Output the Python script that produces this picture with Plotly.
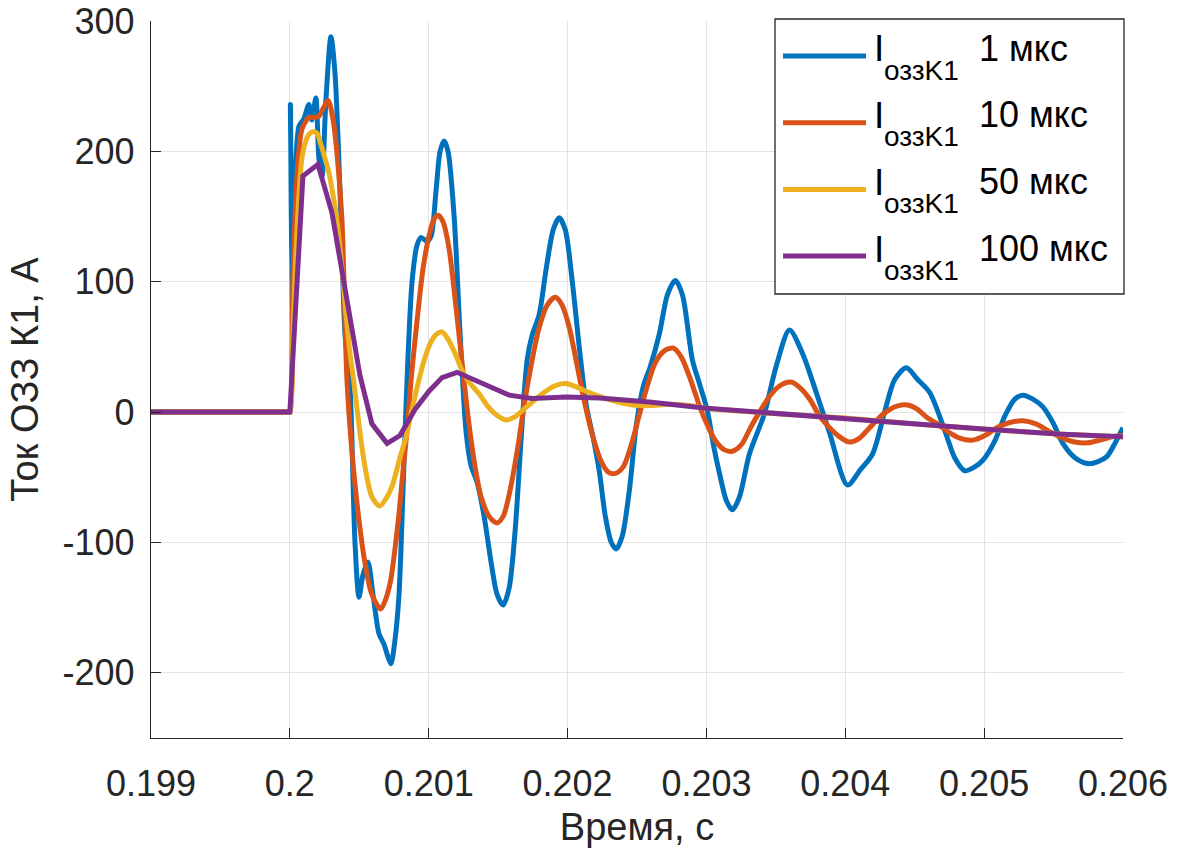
import plotly.graph_objects as go

# Fault current of the K1 earth fault, simulated with four time steps
t_1us = [0.199, 0.19999, 0.2, 0.200004, 0.200018, 0.200065, 0.200101, 0.200137, 0.200159, 0.200187,
         0.200209, 0.200231, 0.200260, 0.200296, 0.200325, 0.200361, 0.200397, 0.200433,
         0.200469, 0.200498, 0.200526, 0.200562, 0.200599, 0.200642, 0.200678, 0.200707,
         0.200728, 0.200757, 0.200786, 0.200815, 0.200844, 0.200880, 0.200916, 0.200945,
         0.200988, 0.201017, 0.201053, 0.201082, 0.201111, 0.201139, 0.201183, 0.201226,
         0.201269, 0.201305, 0.201349, 0.201399, 0.201449, 0.201493, 0.201536, 0.201579,
         0.201623, 0.201666, 0.201709, 0.201745, 0.201796, 0.201846, 0.201897, 0.201940,
         0.201983, 0.202034, 0.202084, 0.202135, 0.202185, 0.202228, 0.202272, 0.202315,
         0.202351, 0.202394, 0.202445, 0.202495, 0.202546, 0.202596, 0.202661, 0.202719,
         0.202776, 0.202827, 0.202899, 0.202949, 0.203007, 0.203050, 0.203094, 0.203144,
         0.203187, 0.203238, 0.203310, 0.203418, 0.203502, 0.203598, 0.203692, 0.203791,
         0.203887, 0.204016, 0.204103, 0.204197, 0.204283, 0.204356, 0.204440, 0.204521,
         0.204608, 0.204716, 0.204788, 0.204860, 0.204932, 0.204990, 0.205077, 0.205149,
         0.205221, 0.205279, 0.205351, 0.205423, 0.205495, 0.205567, 0.205654, 0.205747,
         0.205820, 0.205885, 0.205942, 0.206]
i_1us = [0, 0, 0, 236, 110, 219, 225, 236, 224, 241,
         195, 180, 240, 288, 260, 170, 60, 20,
         -100, -142, -125, -115, -140, -170, -178, -188,
         -193, -175, -140, -60, 25, 100, 128, 134,
         131, 135, 170, 200, 208, 200, 150, 60,
         -15, -41, -54, -80, -115, -140, -148, -135,
         -90, -20, 40, 59, 75, 110, 140, 149,
         140, 100, 50, 5, -20, -45, -80, -100,
         -105, -95, -60, -10, 20, 35, 60, 90,
         101, 90, 40, 22, 1, -25, -47, -68,
         -75, -65, -32, -1, 35, 63, 45, 15,
         -16, -56, -45, -32, 0, 25, 34, 25,
         15, -14, -35, -45, -42, -37, -22, -3,
         10, 13, 10, 4, -8, -24, -35, -39.5,
         -38, -34, -24, -12]

t_10us = [0.199, 0.19999, 0.2, 0.200022, 0.200043, 0.200065, 0.200087, 0.200137, 0.200173, 0.200209,
          0.200245, 0.200276, 0.200310, 0.200339, 0.200375, 0.200411, 0.200447, 0.200498,
          0.200546, 0.200591, 0.200654, 0.200692, 0.200726, 0.200757, 0.200786, 0.200815,
          0.200844, 0.200873, 0.200916, 0.200959, 0.201002, 0.201038, 0.201067, 0.201103,
          0.201147, 0.201197, 0.201248, 0.201291, 0.201334, 0.201377, 0.201435, 0.201491,
          0.201536, 0.201586, 0.201637, 0.201687, 0.201745, 0.201796, 0.201853, 0.201911,
          0.201961, 0.202012, 0.202070, 0.202127, 0.202185, 0.202243, 0.202293, 0.202344,
          0.202401, 0.202459, 0.202517, 0.202574, 0.202632, 0.202697, 0.202762, 0.202820,
          0.202885, 0.202949, 0.203007, 0.203065, 0.203130, 0.203187, 0.203252, 0.203317,
          0.203382, 0.203454, 0.203526, 0.203606, 0.203671, 0.203743, 0.203815, 0.203887,
          0.203959, 0.204031, 0.204103, 0.204175, 0.204247, 0.204319, 0.204384, 0.204449,
          0.204521, 0.204586, 0.204658, 0.204738, 0.204824, 0.204918, 0.205005, 0.205091,
          0.205185, 0.205279, 0.205372, 0.205473, 0.205567, 0.205654, 0.205747, 0.205834,
          0.205920, 0.206]
i_10us = [0, 0, 0, 100, 165, 200, 217, 226, 226, 227,
          234, 239, 225, 199, 148, 25, -30, -83,
          -119, -140, -151, -143, -129, -105, -78, -45,
          -14, 25, 70, 110, 135, 148, 151, 146,
          125, 80, 30, -10, -42, -65, -80, -85,
          -80, -60, -30, 5, 40, 65, 82, 88,
          82, 65, 35, 5, -20, -38, -46, -47,
          -42, -25, -2, 20, 38, 47, 49, 42,
          25, 5, -10, -22, -29, -30, -25, -12,
          0, 12, 20, 23, 19, 10, -3, -12,
          -19, -23, -20, -12, -4, 2, 5, 5.4,
          2, -4, -8.7, -15, -20, -21.5, -18, -12,
          -8, -6.7, -9, -15, -20, -23, -23.6, -21.5,
          -19, -17.7]

t_50us = [0.199, 0.19999, 0.2, 0.200022, 0.200043, 0.200065, 0.200087, 0.200115, 0.200137, 0.200166,
          0.200195, 0.200224, 0.200252, 0.200281, 0.200310, 0.200332, 0.200368, 0.200404,
          0.200433, 0.200462, 0.200498, 0.200541, 0.200591, 0.200647, 0.200700, 0.200736,
          0.200793, 0.200837, 0.200880, 0.200930, 0.200974, 0.201017, 0.201060, 0.201096,
          0.201139, 0.201190, 0.201240, 0.201291, 0.201363, 0.201421, 0.201486, 0.201555,
          0.201615, 0.201673, 0.201745, 0.201817, 0.201904, 0.201988, 0.202070, 0.202156,
          0.202228, 0.202351, 0.202466, 0.202589, 0.202733, 0.202877, 0.203000, 0.203476,
          0.204002, 0.204608, 0.204990, 0.205567, 0.206]
i_50us = [0, 0, 0, 60, 120, 165, 195, 208, 213, 215,
          214, 205, 195, 184, 167, 153, 118, 75,
          45, 22, -10, -42, -65, -72, -65, -57,
          -35, -19, 2, 25, 42, 54, 60, 61.5,
          56, 45, 32, 23, 14, 5, -2, -6,
          -4, 1, 7.7, 14, 20, 22, 19, 15,
          12, 8, 5.5, 5, 6, 5, 3, -1,
          -4.6, -10, -13, -17, -19]

t_100us = [0.199, 0.2, 0.200094, 0.200202, 0.200303, 0.200404, 0.200505, 0.200591, 0.200700,
           0.200793, 0.200901, 0.201002, 0.201096, 0.201204, 0.201385, 0.201579, 0.201745,
           0.201990, 0.202228, 0.202589, 0.203000, 0.203476, 0.204002, 0.204608, 0.204990,
           0.205567, 0.206]
i_100us = [0, 0, 181, 190, 153, 92, 28, -9, -24,
           -18, 2, 16, 26.5, 30.5, 22.5, 13, 10.4,
           11.5, 10.8, 7.7, 3, -1, -4.6, -10, -13,
           -17, -19]

step_labels = ["1 мкс", "10 мкс", "50 мкс", "100 мкс"]
colors = ["#0072BD", "#D95319", "#EDB120", "#7E2F8E"]
series = [(t_1us, i_1us), (t_10us, i_10us), (t_50us, i_50us), (t_100us, i_100us)]

x_ticks = [0.199, 0.2, 0.201, 0.202, 0.203, 0.204, 0.205, 0.206]
x_ticktext = ["0.199", "0.2", "0.201", "0.202", "0.203", "0.204", "0.205", "0.206"]
y_ticks = [-200, -100, 0, 100, 200, 300]
y_ticktext = ["-200", "-100", "0", "100", "200", "300"]

FONT = "Liberation Sans, Arial, sans-serif"
INK = "#262626"
W, H = 1177, 852
ML, MR, MT, MB = 151, 54, 21, 114

fig = go.Figure()
for (tt, ii), name, col in zip(series, step_labels, colors):
    # the 100 us run is a coarse polyline; the finer runs are drawn smooth
    shape = dict(shape="linear") if name == "100 мкс" else dict(shape="spline", smoothing=0.8)
    fig.add_trace(go.Scatter(
        x=tt, y=ii, mode="lines", name="I<sub>оззK1</sub> " + name,
        line=dict(color=col, width=5, **shape),
        showlegend=False,
    ))

fig.update_layout(
    width=W, height=H, autosize=False,
    margin=dict(l=ML, r=MR, t=MT, b=MB),
    paper_bgcolor="white", plot_bgcolor="white",
    font=dict(family=FONT, color=INK),
)
axis_common = dict(
    showgrid=True, gridcolor="#e3e3e3", gridwidth=1, zeroline=False,
    showline=True, linecolor=INK, linewidth=1.3, mirror=False,
    ticks="inside", ticklen=10, tickwidth=1.3, tickcolor=INK,
    tickfont=dict(size=36, family=FONT, color=INK), automargin=False,
)
fig.update_xaxes(
    range=[0.199, 0.206], tickvals=x_ticks, ticktext=x_ticktext, ticklabelstandoff=14,
    title=dict(text="Время, с", font=dict(size=38, family=FONT, color=INK), standoff=10),
    **axis_common,
)
fig.update_yaxes(
    range=[-250, 300], tickvals=y_ticks, ticktext=y_ticktext, ticklabelstandoff=8,
    title=dict(text="Ток ОЗЗ К1, А", font=dict(size=38, family=FONT, color=INK), standoff=12),
    **axis_common,
)

# Legend box drawn in paper coordinates (pixel positions converted)
pw, ph = W - ML - MR, H - MT - MB


def px(x):
    return (x - ML) / pw


def py(y):
    return (H - MB - y) / ph


fig.add_shape(type="rect", xref="paper", yref="paper",
              x0=px(775), x1=px(1124), y0=py(294), y1=py(19),
              line=dict(color=INK, width=1.3), fillcolor="white", layer="above")
for k, (name, col) in enumerate(zip(step_labels, colors)):
    ly = 56 + 66.7 * k
    fig.add_shape(type="line", xref="paper", yref="paper",
                  x0=px(783), x1=px(866), y0=py(ly), y1=py(ly),
                  line=dict(color=col, width=5), layer="above")
    fig.add_annotation(xref="paper", yref="paper", x=px(872), y=py(ly - 7),
                       xanchor="left", yanchor="middle", showarrow=False,
                       text="I", font=dict(size=37, family=FONT, color="black"))
    fig.add_annotation(xref="paper", yref="paper", x=px(882), y=py(ly + 14),
                       xanchor="left", yanchor="middle", showarrow=False,
                       text="оззK1", font=dict(size=28, family=FONT, color="black"))
    fig.add_annotation(xref="paper", yref="paper", x=px(977), y=py(ly - 8),
                       xanchor="left", yanchor="middle", showarrow=False,
                       text=name, font=dict(size=36, family=FONT, color="black"))

fig.write_html("out.html")
